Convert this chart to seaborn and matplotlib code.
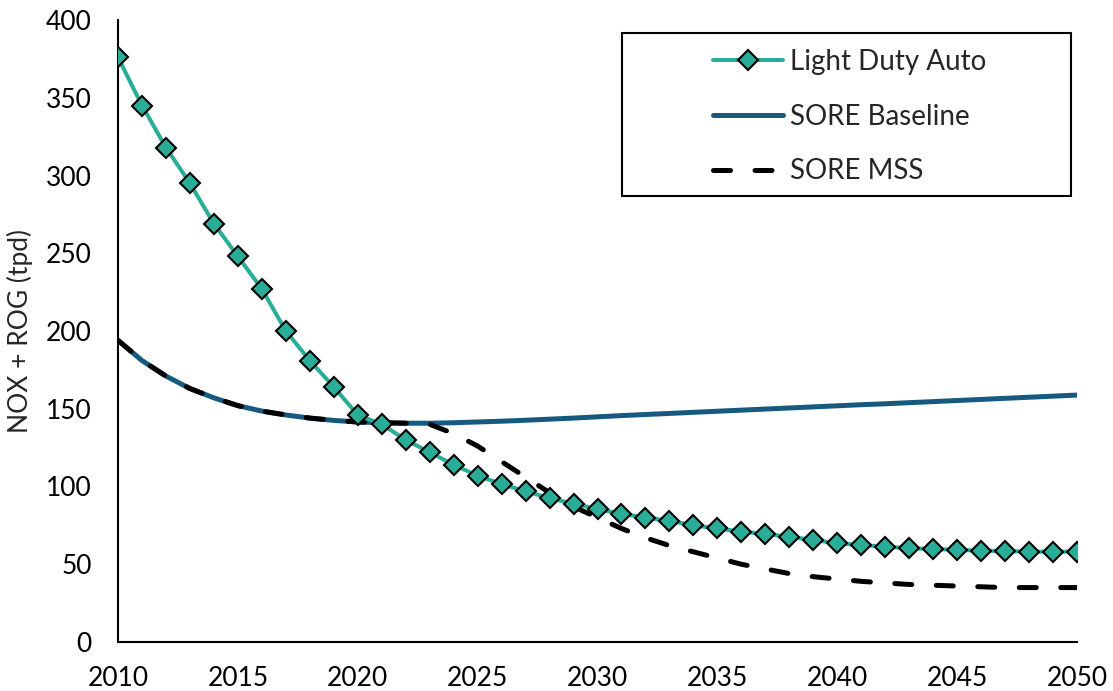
import matplotlib
matplotlib.use("Agg")
import matplotlib.pyplot as plt
from matplotlib.patches import Rectangle
import seaborn as sns
import numpy as np
import pandas as pd

years = list(range(2010, 2051))

light_duty_auto = [376, 345, 318, 295, 269, 248, 227, 200, 181, 164,
                   146, 140, 130, 122, 114, 107, 101.5, 97, 92.5, 89,
                   85.5, 82.5, 80, 78, 75, 73, 71, 69.5, 67.7, 65.6,
                   63.5, 62.4, 61.3, 60.3, 59.8, 59.2, 58.7, 58.5, 58.1, 58.1, 58.1]

sore_baseline = [194, 181, 171, 163, 157, 152, 148.5, 146, 144, 142.5,
                 141.5, 141, 140.7, 140.7, 141, 141.5, 142, 142.6, 143.3, 144,
                 144.8, 145.6, 146.3, 147, 147.7, 148.4, 149.1, 149.8, 150.5, 151.2,
                 151.9, 152.6, 153.2, 153.9, 154.6, 155.3, 156, 156.7, 157.4, 158.1, 158.8]

sore_mss = [194, 181, 171, 163, 157, 152, 148.5, 146, 144, 142.5,
            141.5, 141, 140.7, 140, 134, 126, 116, 106, 96, 87,
            80, 73, 67, 62, 58, 54, 50, 47, 44, 42,
            40.5, 39, 38, 37, 36.5, 36, 35.5, 35, 35, 35, 35]

series_names = ["Light Duty Auto", "SORE Baseline", "SORE MSS"]
x_ticks = list(range(2010, 2051, 5))
y_ticks = list(range(0, 401, 50))

sns.set_style("white")
plt.rcParams['font.family'] = ['Lato', 'DejaVu Sans']

W, H = 1113, 691
fig = plt.figure(figsize=(W / 100, H / 100), dpi=100)
ax = fig.add_axes([118 / W, 49 / H, (1077 - 118) / W, (642 - 20) / H])

teal = "#29AD98"
navy = "#175A80"

sns.lineplot(x=years, y=sore_baseline, ax=ax, color=navy, linewidth=3.6,
             label=series_names[1], zorder=2)
sns.lineplot(x=years, y=sore_mss, ax=ax, color="black", linewidth=3.6,
             linestyle=(0, (3.4, 4.9)), dash_capstyle="round",
             label=series_names[2], zorder=3)
sns.lineplot(x=years, y=light_duty_auto, ax=ax, color=teal, linewidth=2.9,
             marker="D", markersize=10, markerfacecolor=teal,
             markeredgecolor="black", markeredgewidth=1.5,
             label=series_names[0], zorder=4)

ax.set_xlim(2010, 2050)
ax.set_ylim(0, 400)
ax.set_xticks(x_ticks)
ax.set_yticks(y_ticks)
ax.tick_params(axis="x", direction="in", length=8, width=1.3, pad=17,
               labelsize=19, colors="black")
ax.tick_params(axis="y", length=0, pad=19, labelsize=19, colors="black")
ax.set_xlabel("")
ax.set_ylabel("NOX + ROG (tpd)", fontsize=19, labelpad=9)

for s in ["top", "right"]:
    ax.spines[s].set_visible(False)
for s in ["left", "bottom"]:
    ax.spines[s].set_color("black")
    ax.spines[s].set_linewidth(1.5)

handles, labels = ax.get_legend_handles_labels()
order = [labels.index(n) for n in series_names]
leg = ax.legend([handles[i] for i in order], [labels[i] for i in order],
                loc="upper left", bbox_to_anchor=(713 / W, 1 - 49 / H),
                bbox_transform=fig.transFigure,
                fontsize=20, frameon=False,
                handlelength=2.52, handletextpad=0.25, labelspacing=1.03,
                borderpad=0, borderaxespad=0)

fig.add_artist(Rectangle((622 / W, 1 - 196 / H), 449 / W, 163 / H,
                         transform=fig.transFigure, fill=False,
                         edgecolor="black", linewidth=1.5))

fig.savefig("out.png", dpi=100)
